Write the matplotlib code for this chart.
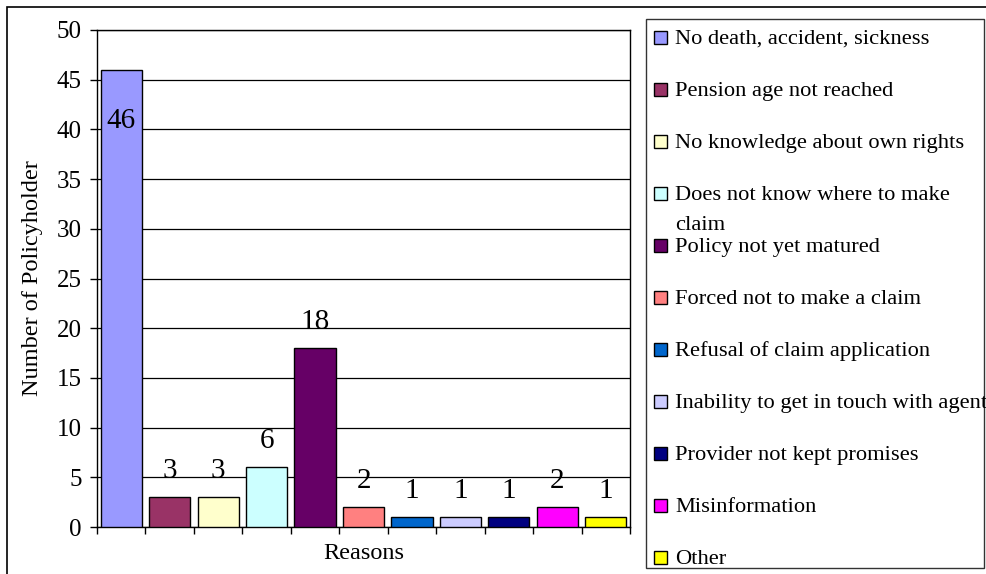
import matplotlib.pyplot as plt
from matplotlib.patches import Rectangle
import numpy as np

plt.rcParams['font.family'] = ['Liberation Serif', 'DejaVu Serif']

# Data
reasons = ['No death, accident, sickness', 'Pension age not reached',
           'No knowledge about own rights', 'Does not know where to make\nclaim',
           'Policy not yet matured', 'Forced not to make a claim',
           'Refusal of claim application', 'Inability to get in touch with agent',
           'Provider not kept promises', 'Misinformation', 'Other']
counts = [46, 3, 3, 6, 18, 2, 1, 1, 1, 2, 1]
colors = ['#9999FF', '#993366', '#FFFFCC', '#CCFFFF', '#660066', '#FF8080',
          '#0066CC', '#CCCCFF', '#000080', '#FF00FF', '#FFFF00']
y_ticks = [0, 5, 10, 15, 20, 25, 30, 35, 40, 45, 50]

W, H = 986, 574
fig = plt.figure(figsize=(W / 100, H / 100), dpi=100)


def fx(x):
    return x / W


def fy(y):
    return 1 - y / H


# outer chart frame (right/bottom edges fall outside the picture)
fig.patches.append(Rectangle((fx(7), fy(590)), 1.2, fy(7) - fy(590),
                             transform=fig.transFigure, fill=False,
                             edgecolor='black', linewidth=1.2))

ax = fig.add_axes([fx(97), fy(527), (630 - 97) / W, (527 - 30) / H])
x = np.arange(len(counts))
ax.bar(x, counts, width=0.85, color=colors, edgecolor='black', linewidth=1, zorder=3)

ax.set_xlim(-0.5, len(counts) - 0.5)
ax.set_ylim(0, 50)
ax.set_yticks(y_ticks)
ax.set_xticks(np.arange(-0.5, len(counts), 1))
ax.set_xticklabels([])
ax.tick_params(axis='y', direction='out', length=5, width=1, labelsize=18, pad=6)
ax.tick_params(axis='x', direction='out', length=5, width=1)
ax.grid(axis='y', color='black', linewidth=0.9, zorder=0)
for s in ax.spines.values():
    s.set_linewidth(1)
    s.set_color('black')

ax.set_xlabel('Reasons', fontsize=17.5, labelpad=3)
ax.set_ylabel('Number of Policyholder', fontsize=17.5, labelpad=10)

# value labels
for i, v in enumerate(counts):
    off = -37 if v > 40 else 19
    ax.annotate(str(v), (i, v), xytext=(0, off), textcoords='offset points',
                ha='center', va='center', fontsize=21)

# legend box drawn by hand (Excel keeps even row spacing)
fig.patches.append(Rectangle((fx(646), fy(568)), fx(984) - fx(646), fy(19) - fy(568),
                             transform=fig.transFigure, fill=False,
                             edgecolor='#333333', linewidth=1))
for i, (lab, c) in enumerate(zip(reasons, colors)):
    base = 44 + 52 * i
    fig.patches.append(Rectangle((fx(654), fy(base)), 13 / W, 13 / H,
                                 transform=fig.transFigure, facecolor=c,
                                 edgecolor='black', linewidth=1))
    for k, line in enumerate(lab.split('\n')):
        fig.text(fx(675), fy(base + 30 * k), line, fontsize=16.2,
                 va='baseline', ha='left')

fig.savefig('out.png', dpi=100)
